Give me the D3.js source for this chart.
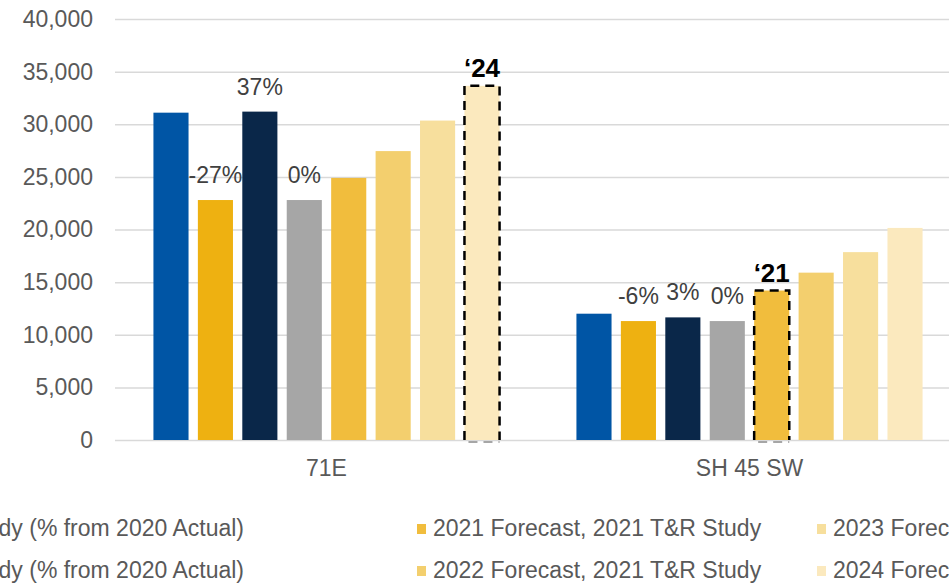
<!DOCTYPE html>
<html>
<head>
<meta charset="utf-8">
<script src="https://cdn.jsdelivr.net/npm/d3@7"></script>
<style>
  html, body { margin: 0; padding: 0; background: #fff; overflow: hidden; }
  svg { display: block; font-family: "Liberation Sans", Arial, sans-serif; }
</style>
</head>
<body>
<svg id="chart"></svg>
<script>
const categories = ["71E", "SH 45 SW"];

const seriesNames = [
    "2019 Actual",
    "2020 Actual (% from 2019 Actual)",
    "2020 Forecast, 2019 T&R Study (% from 2020 Actual)",
    "2020 Forecast, 2021 T&R Study (% from 2020 Actual)",
    "2021 Forecast, 2021 T&R Study",
    "2022 Forecast, 2021 T&R Study",
    "2023 Forecast, 2021 T&R Study",
    "2024 Forecast, 2021 T&R Study"
];

const seriesColors = ["#0055a5", "#eeb111", "#0a2749", "#a6a6a6",
                      "#f1bd3d", "#f3cf6e", "#f7df9d", "#fbe9be"];

// values per series, one per category
const values2019Actual = [31100, 12000];
const values2020Actual = [22800, 11300];
const values2020Fc2019Study = [31200, 11650];
const values2020Fc2021Study = [22800, 11300];
const values2021Fc = [24900, 14200];
const values2022Fc = [27450, 15900];
const values2023Fc = [30350, 17850];
const values2024Fc = [33650, 20150];

const seriesValues = [values2019Actual, values2020Actual, values2020Fc2019Study,
    values2020Fc2021Study, values2021Fc, values2022Fc, values2023Fc, values2024Fc];

// percent labels shown above some bars
const pctLabels = [
    { series: 1, labels: ["-27%", "-6%"] },
    { series: 2, labels: ["37%", "3%"] },
    { series: 3, labels: ["0%", "0%"] }
];

// bars outlined with a dashed box
const highlights = [
    { series: 7, category: "71E", label: "\u201824" },
    { series: 4, category: "SH 45 SW", label: "\u201821" }
];

const yTicks = [0, 5000, 10000, 15000, 20000, 25000, 30000, 35000, 40000];

const width = 949;
const height = 584;
const margin = ({ top: 19, left: 115, bottom: 144 });
const plotRight = 961; // plot runs past the right edge of the picture

const svg = d3.select("#chart")
    .attr("width", width)
    .attr("height", height);

const data = [];
categories.forEach((c, ci) => {
    seriesValues.forEach((vals, si) => {
        data.push({ category: c, series: si, value: vals[ci] });
    });
});

const x0 = d3.scaleBand()
    .domain(categories)
    .range([margin.left, plotRight])
    .paddingInner(0)
    .paddingOuter(0);

const x1 = d3.scaleBand()
    .domain(d3.range(seriesNames.length))
    .range([0, x0.bandwidth()])
    .paddingInner(0.21)
    .paddingOuter(0.865);

const y = d3.scaleLinear()
    .domain([0, 40000])
    .range([height - margin.bottom, margin.top]);

// gridlines + y labels
const yAxis = g => g
    .attr("transform", `translate(${margin.left},0)`)
    .call(d3.axisLeft(y)
        .tickValues(yTicks)
        .tickFormat(d3.format(","))
        .tickSizeInner(-(plotRight - margin.left))
        .tickSizeOuter(0)
        .tickPadding(22))
    .call(g => g.select(".domain").remove())
    .call(g => g.selectAll(".tick line")
        .attr("stroke", "#d9d9d9")
        .attr("stroke-width", 1.5))
    .call(g => g.selectAll(".tick text")
        .attr("fill", "#595959")
        .attr("font-size", 23)
        .attr("font-family", "Liberation Sans, Arial, sans-serif"));

svg.append("g").call(yAxis);

// bars
svg.append("g")
    .selectAll("rect")
    .data(data)
    .join("rect")
    .attr("x", d => x0(d.category) + x1(d.series))
    .attr("y", d => y(d.value))
    .attr("width", x1.bandwidth())
    .attr("height", d => y(0) - y(d.value))
    .attr("fill", d => seriesColors[d.series]);

// category axis
const xAxis = g => g
    .attr("transform", `translate(0,${y(0)})`)
    .call(d3.axisBottom(x0).tickSize(0).tickPadding(20))
    .call(g => g.select(".domain").remove())
    .call(g => g.selectAll(".tick text")
        .attr("fill", "#595959")
        .attr("font-size", 23)
        .attr("font-family", "Liberation Sans, Arial, sans-serif"));

svg.append("g").call(xAxis);

// percent labels
pctLabels.forEach(p => {
    svg.append("g")
        .selectAll("text")
        .data(categories)
        .join("text")
        .attr("x", (c, ci) => x0(c) + x1(p.series) + x1.bandwidth() / 2)
        .attr("y", (c, ci) => y(seriesValues[p.series][ci]) - 17)
        .attr("text-anchor", "middle")
        .attr("fill", "#404040")
        .attr("font-size", 23)
        .text((c, ci) => p.labels[ci]);
});

// dashed highlight boxes
highlights.forEach(h => {
    const ci = categories.indexOf(h.category);
    const v = seriesValues[h.series][ci];
    const bx = x0(h.category) + x1(h.series);
    const bw = x1.bandwidth();
    const g = svg.append("g");
    g.append("path")
        .attr("d", `M${bx},${y(0)}V${y(v)}H${bx + bw}V${y(0)}`)
        .attr("fill", "none")
        .attr("stroke", "#000")
        .attr("stroke-width", 2.5)
        .attr("stroke-dasharray", "9,6");
    g.append("line")
        .attr("x1", bx + 4).attr("x2", bx + bw)
        .attr("y1", y(0) + 2).attr("y2", y(0) + 2)
        .attr("stroke", "#a6a6a6")
        .attr("stroke-width", 2)
        .attr("stroke-dasharray", "9,6");
    g.append("text")
        .attr("x", bx + bw / 2)
        .attr("y", y(v) - 9)
        .attr("text-anchor", "middle")
        .attr("font-weight", "bold")
        .attr("font-size", 26)
        .attr("fill", "#000")
        .text(h.label);
});

// legend (cut off at both sides, as in the original)
const legendRows = [536, 578];
const legend = svg.append("g")
    .attr("font-size", 23)
    .attr("fill", "#595959");

// first visible column: only the end of the text shows
[2, 3].forEach((si, r) => {
    legend.append("text")
        .attr("x", 244)
        .attr("y", legendRows[r])
        .attr("text-anchor", "end")
        .text(seriesNames[si]);
});

const legendCols = [{ x: 417, items: [4, 5] }, { x: 817, items: [6, 7] }];
legendCols.forEach(col => {
    col.items.forEach((si, r) => {
        legend.append("rect")
            .attr("x", col.x)
            .attr("y", legendRows[r] - 12)
            .attr("width", 9)
            .attr("height", 10)
            .attr("fill", seriesColors[si]);
        legend.append("text")
            .attr("x", col.x + 16)
            .attr("y", legendRows[r])
            .text(seriesNames[si]);
    });
});
</script>
</body>
</html>
